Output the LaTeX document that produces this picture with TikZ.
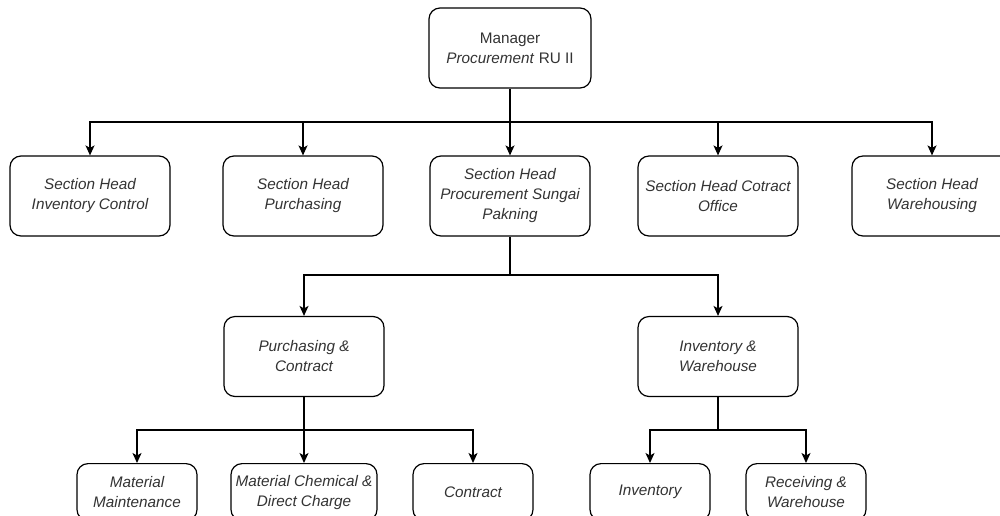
\documentclass[tikz,border=0pt]{standalone}
\usepackage{fontspec}
\setmainfont{Liberation Sans}
\usetikzlibrary{arrows.meta}
\tikzset{
  box/.style={draw=black, line width=1.2pt, rounded corners=11pt, fill=white, align=center, inner sep=0pt,
    font=\fontsize{15.3}{20}\selectfont\itshape, text=black!80},
  wide/.style={box, minimum width=160pt, minimum height=80pt},
  small/.style={box, minimum width=120pt, minimum height=57pt},
  conn/.style={line width=1.3pt, draw=black},
  arr/.style={conn, -{Stealth[length=10pt, width=9pt, inset=2.5pt]}}
}
\begin{document}
\begin{tikzpicture}[x=1pt, y=-1pt]
\useasboundingbox (0,0) rectangle (1000,515);
\clip (0,0) rectangle (1000,515);
% top
\node[wide, font=\fontsize{15.3}{20}\selectfont, minimum width=162pt] (mgr) at (510,48) {Manager\\\textit{Procurement} RU II};
% row 2
\node[wide] (s1) at (90,196) {Section Head\\Inventory Control};
\node[wide] (s2) at (303,196) {Section Head\\Purchasing};
\node[wide] (s3) at (510,196) {Section Head\\Procurement Sungai\\Pakning};
\node[wide] (s4) at (718,196) {Section Head Cotract\\Office};
\node[wide] (s5) at (932,196) {Section Head\\Warehousing};
% row 3
\node[wide] (pc) at (304,356.5) {Purchasing \&\\Contract};
\node[wide] (iw) at (718,356.5) {Inventory \&\\Warehouse};
% row 4
\node[small, anchor=north] (mm) at (137,463) {Material\\Maintenance};
\node[small, anchor=north, minimum width=146pt] (mc) at (304,463) {Material Chemical \&\\Direct Charge};
\node[small, anchor=north] (ct) at (473,463) {Contract};
\node[small, anchor=north] (inv) at (650,463) {Inventory};
\node[small, anchor=north] (rw) at (806,463) {Receiving \&\\Warehouse};
% junctions
\coordinate (j1) at (510,122);
\coordinate (j2) at (510,275);
\coordinate (j3) at (304,430);
\coordinate (j4) at (718,430);
% connectors
\draw[conn] (mgr.south) -- (j1);
\foreach \n in {s1,s2,s3,s4,s5} \draw[arr] (j1) -| (\n.north);
\draw[conn] (s3.south) -- (j2);
\foreach \n in {pc,iw} \draw[arr] (j2) -| (\n.north);
\draw[conn] (pc.south) -- (j3);
\foreach \n in {mm,mc,ct} \draw[arr] (j3) -| (\n.north);
\draw[conn] (iw.south) -- (j4);
\foreach \n in {inv,rw} \draw[arr] (j4) -| (\n.north);
\end{tikzpicture}
\end{document}
